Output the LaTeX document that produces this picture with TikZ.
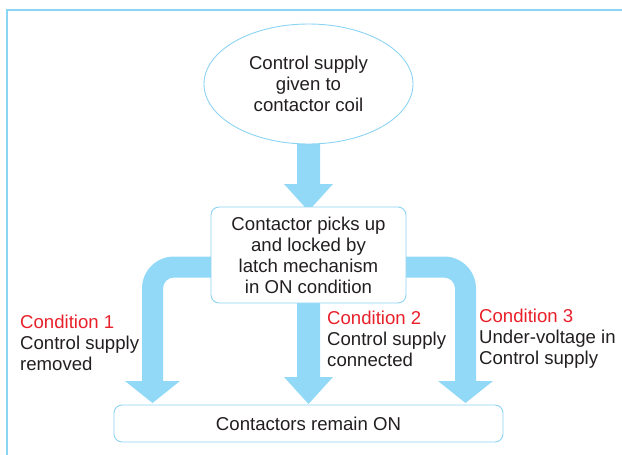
\documentclass[tikz,border=0pt]{standalone}
\usepackage{fontspec}
\setmainfont{Liberation Sans}
\usetikzlibrary{shapes.geometric}
\definecolor{arrowblue}{RGB}{146,217,247}
\definecolor{lineblue}{RGB}{140,212,243}
\definecolor{txt}{RGB}{35,31,32}
\definecolor{condred}{RGB}{232,32,42}
\begin{document}
\begin{tikzpicture}[x=1pt,y=-1pt,
  every node/.style={font=\fontsize{18.6}{21}\selectfont, text=txt, inner sep=0pt},
  bubble/.style={ellipse, draw=lineblue, line width=0.9pt, fill=white, minimum width=209pt, minimum height=120pt, align=center},
  stepbox/.style={rectangle, rounded corners=8pt, draw=lineblue, line width=0.9pt, fill=white, align=center},
  cond/.style={anchor=west, align=left},
  fatarrow/.style={fill=arrowblue, draw=none}]
\useasboundingbox (0,0) rectangle (622,455);
% frame
\draw[lineblue, line width=1.5pt] (7,455) -- (7,10) -- (622,10);
% arrows (drawn first, boxes cover their ends)
% top
\fill[arrowblue] (297,130) -- (320,130) -- (320,184) -- (333,184) -- (308.5,211) -- (284,184) -- (297,184) -- cycle;
% middle
\fill[arrowblue] (297,290) -- (320,290) -- (320,377) -- (333,377) -- (308.5,404) -- (284,377) -- (297,377) -- cycle;
% left curved
\fill[arrowblue] (220,256.5) -- (174,256.5) arc[start angle=-90, end angle=-180, radius=32] -- (142,381) -- (125,381) -- (152.5,403) -- (180,381) -- (163,381) -- (163,288.5) arc[start angle=-180, end angle=-90, radius=11] -- (220,277.5) -- cycle;
% right curved
\fill[arrowblue] (400,256.5) -- (444,256.5) arc[start angle=-90, end angle=0, radius=32] -- (476,381) -- (493,381) -- (465.5,403) -- (438,381) -- (455,381) -- (455,288.5) arc[start angle=0, end angle=-90, radius=11] -- (400,277.5) -- cycle;
% nodes
\node[bubble] (supply) at (308.5,84) {Control supply\\given to\\contactor coil};
\node[stepbox, minimum width=195pt, minimum height=96pt] (latch) at (308.5,255) {Contactor picks up\\and locked by\\latch mechanism\\in ON condition};
\node[stepbox, minimum width=389pt, minimum height=37pt] (on) at (308.5,423.5) {Contactors remain ON};
\node[cond] (c1) at (20,343) {\textcolor{condred}{Condition 1}\\Control supply\\removed};
\node[cond] (c2) at (327,339) {\textcolor{condred}{Condition 2}\\Control supply\\connected};
\node[cond] (c3) at (479,339) {\textcolor{condred}{Condition 3}\\Under-voltage in\\Control supply};
\end{tikzpicture}
\end{document}
